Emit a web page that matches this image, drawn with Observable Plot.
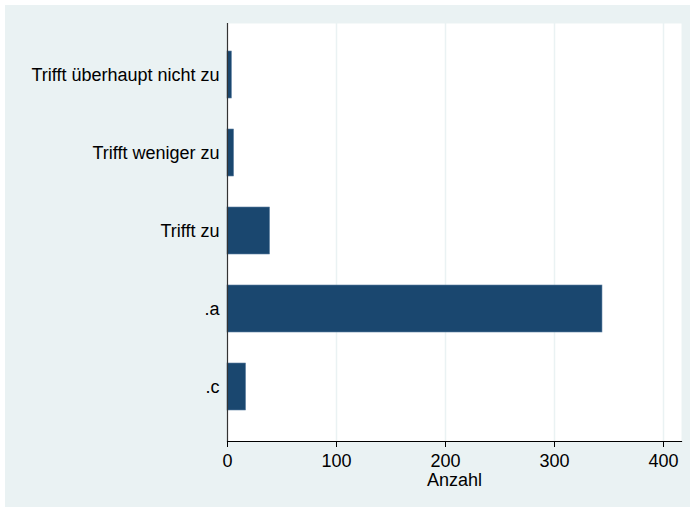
<!DOCTYPE html>
<html>
<head>
<meta charset="utf-8">
<script src="https://cdn.jsdelivr.net/npm/d3@7"></script>
<script src="https://cdn.jsdelivr.net/npm/@observablehq/plot@0.6"></script>
<style>
  html, body { margin: 0; padding: 0; background: #ffffff; }
  #chart { position: absolute; left: 5px; top: 5px; }
</style>
</head>
<body>
<div id="chart"></div>
<script>
const categories = ["Trifft überhaupt nicht zu", "Trifft weniger zu", "Trifft zu", ".a", ".c"];
const counts = [4, 6, 39, 344, 17];
const xTicks = [0, 100, 200, 300, 400];
const xLabel = "Anzahl";

const data = categories.map((c, i) => ({category: c, count: counts[i]}));

const chart = Plot.plot({
  width: 685,
  height: 502,
  marginLeft: 222,
  marginRight: 9,
  marginTop: 18,
  marginBottom: 66,
  style: {
    background: "#EAF2F3",
    fontFamily: "'Liberation Sans', Arial, sans-serif",
    fontSize: "18px",
    color: "#000"
  },
  x: {domain: [0, 416.5], ticks: xTicks},
  y: {domain: categories, paddingInner: 0.392, paddingOuter: 0, insetTop: 26, insetBottom: 28},
  marks: [
    Plot.frame({fill: "white", stroke: null}),
    Plot.gridX(xTicks.filter(d => d > 0), {stroke: "#EAF2F3", strokeOpacity: 1, strokeWidth: 1.5}),
    Plot.barX(data, {y: "category", x: "count", fill: "#1a476f", stroke: "#5d7fa0", strokeWidth: 0.6}),
    Plot.ruleX([0], {stroke: "#333", strokeWidth: 1.2}),
    Plot.frame({anchor: "bottom", stroke: "#000", strokeWidth: 1.2}),
    Plot.axisX({ticks: xTicks, tickSize: 6, tickPadding: 7, label: xLabel, labelAnchor: "center", labelArrow: "none", labelOffset: 44, fontSize: 18}),
    Plot.axisY({tickSize: 0, tickPadding: 8, label: null, fontSize: 18})
  ]
});
document.getElementById("chart").appendChild(chart);
</script>
</body>
</html>
